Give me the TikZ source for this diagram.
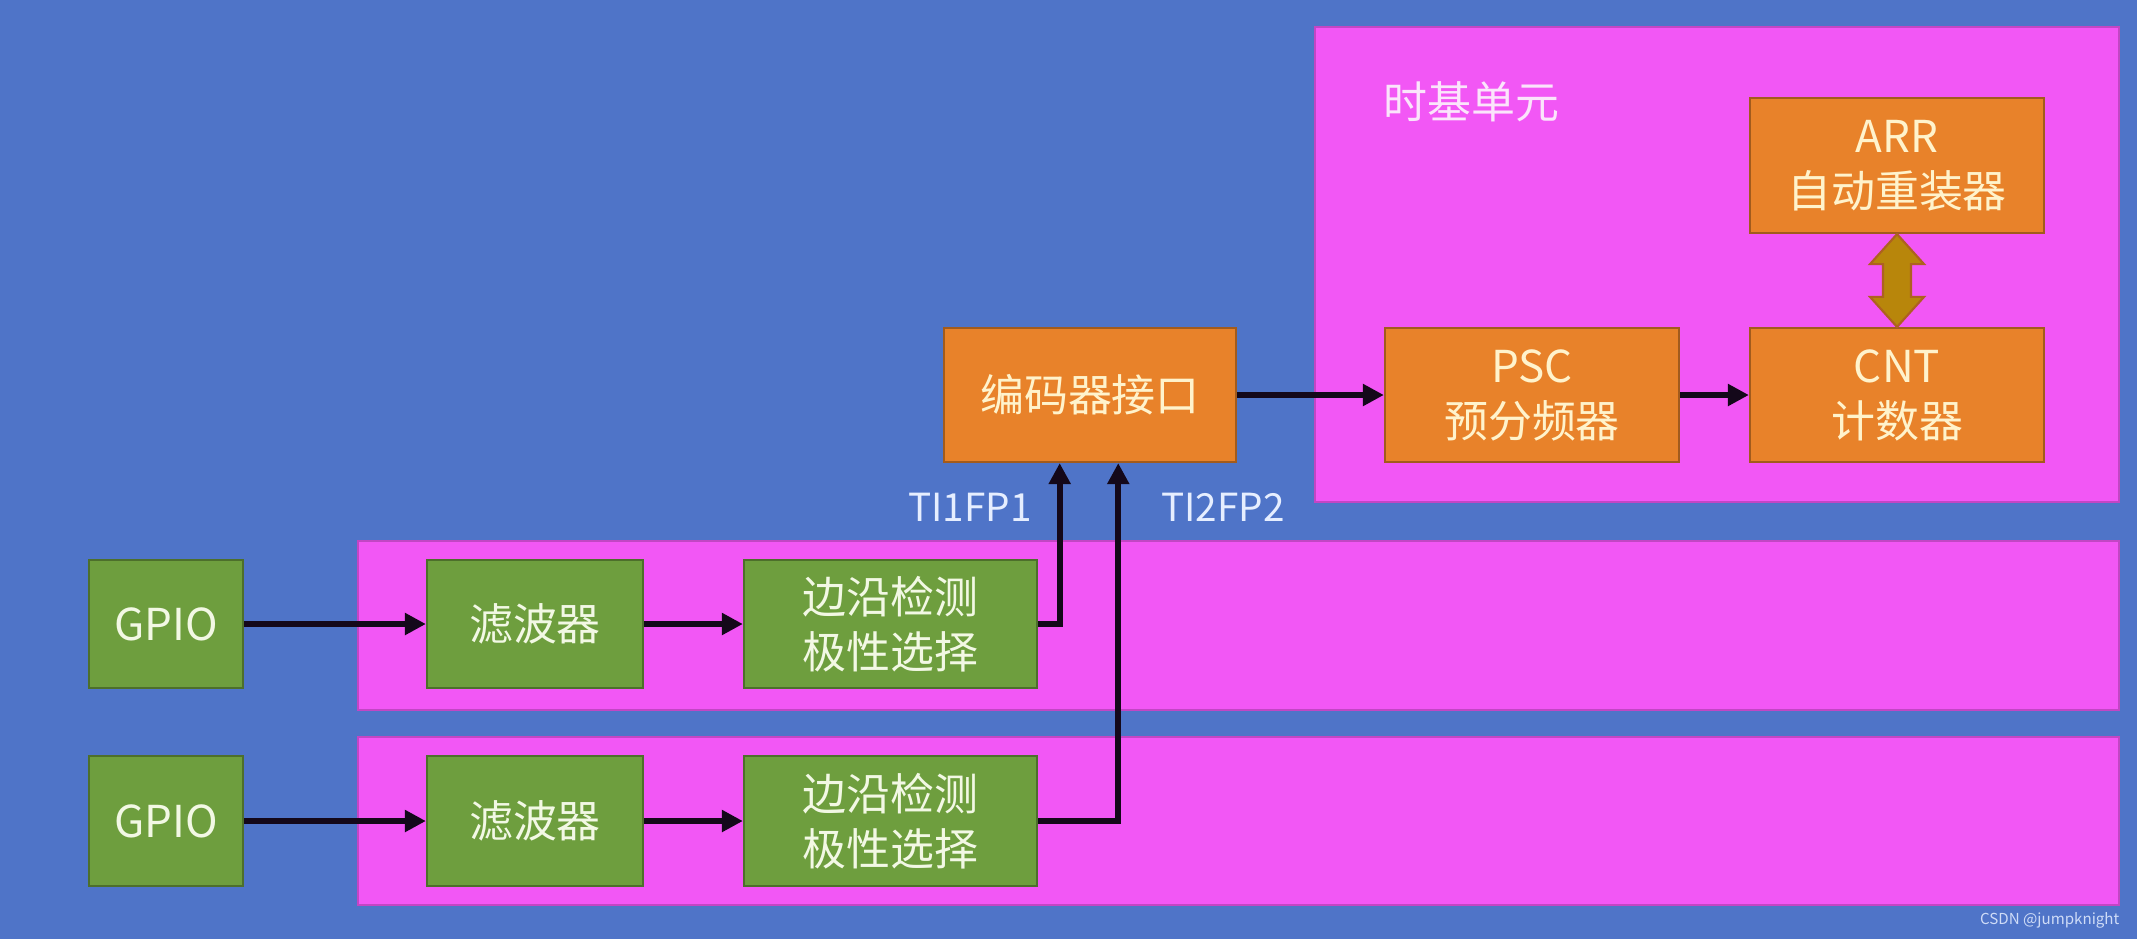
\documentclass[tikz,border=0pt]{standalone}
\usepackage{fontspec}
\setmainfont{Noto Sans CJK SC}
\usetikzlibrary{arrows.meta,calc}
\definecolor{bg}{HTML}{4F74C8}
\definecolor{mag}{HTML}{F257F5}
\definecolor{org}{HTML}{E8822A}
\definecolor{grn}{HTML}{6E9E3E}
\definecolor{gold}{HTML}{B8860B}
\definecolor{cream}{HTML}{FFF3CC}
\definecolor{greentext}{HTML}{F2F8E4}
\definecolor{labeltext}{HTML}{E6EEFF}
\definecolor{titletext}{HTML}{FBE4FB}
\definecolor{ink}{HTML}{14081A}
\begin{document}
\begin{tikzpicture}[x=0.01cm,y=-0.01cm,
  band/.style={fill=mag,draw=mag!80!black,line width=0.4pt},
  obox/.style={fill=org,draw=org!70!black,line width=0.6pt,text=cream,font=\fontsize{12.5}{15.6}\selectfont,align=center,inner sep=0pt},
  gbox/.style={fill=grn,draw=grn!70!black,line width=0.6pt,text=greentext,font=\fontsize{12.5}{15.6}\selectfont,align=center,inner sep=0pt},
  arr/.style={line width=1.8pt,draw=ink,-{Triangle[length=6pt,width=6pt]}},
  sig/.style={text=labeltext,font=\fontsize{11}{13}\selectfont,inner sep=0pt}]
\fill[bg] (0,0) rectangle (2137,939);
\useasboundingbox (0,0) rectangle (2137,939);
% bands
\draw[band] (1315,27) rectangle (2119,502);
\draw[band] (358,541) rectangle (2119,710);
\draw[band] (358,737) rectangle (2119,905);
\node[text=titletext,font=\fontsize{12.5}{15}\selectfont,anchor=west,inner sep=0pt] (tb) at (1383,102) {时基单元};
% time base boxes
\node[obox,minimum width=2.94cm,minimum height=1.35cm] (arr) at (1897,165.5) {ARR\\自动重装器};
\node[obox,minimum width=2.94cm,minimum height=1.34cm] (cnt) at (1897,395) {CNT\\计数器};
\node[obox,minimum width=2.94cm,minimum height=1.34cm] (psc) at (1532,395) {PSC\\预分频器};
\node[obox,minimum width=2.92cm,minimum height=1.34cm] (enc) at (1090,395) {编码器接口};
% channels
\node[gbox,minimum width=1.54cm,minimum height=1.28cm] (g1) at (166,624) {GPIO};
\node[gbox,minimum width=2.16cm,minimum height=1.28cm] (f1) at (535,624) {滤波器};
\node[gbox,minimum width=2.93cm,minimum height=1.28cm] (e1) at (890.5,624) {边沿检测\\极性选择};
\node[gbox,minimum width=1.54cm,minimum height=1.30cm] (g2) at (166,821) {GPIO};
\node[gbox,minimum width=2.16cm,minimum height=1.30cm] (f2) at (535,821) {滤波器};
\node[gbox,minimum width=2.93cm,minimum height=1.30cm] (e2) at (890.5,821) {边沿检测\\极性选择};
% connectors
\draw[arr] (g1) -- (f1);
\draw[arr] (f1) -- (e1);
\draw[arr] (g2) -- (f2);
\draw[arr] (f2) -- (e2);
\draw[arr] (e1.east) -| ($(enc.south west)!0.397!(enc.south east)$);
\draw[arr] (e2.east) -| ($(enc.south west)!0.596!(enc.south east)$);
\draw[arr] (enc) -- (psc);
\draw[arr] (psc) -- (cnt);
% double arrow ARR <-> CNT
\draw[fill=gold,draw=org!75!black,line width=0.6pt]
  (arr.south) -- ($(arr.south)+(27,30)$) -- ($(arr.south)+(14,30)$)
  -- ($(cnt.north)+(14,-30)$) -- ($(cnt.north)+(27,-30)$) -- (cnt.north)
  -- ($(cnt.north)+(-27,-30)$) -- ($(cnt.north)+(-14,-30)$)
  -- ($(arr.south)+(-14,30)$) -- ($(arr.south)+(-27,30)$) -- cycle;
% signal labels
\node[sig] (ti1) at (970,507) {TI1FP1};
\node[sig] (ti2) at (1223,507) {TI2FP2};
% watermark
\node[anchor=east,text=labeltext!85!bg,font=\fontsize{4.3}{5}\selectfont,inner sep=0pt] (wm) at (2120,920) {CSDN @jumpknight};
\end{tikzpicture}
\end{document}
